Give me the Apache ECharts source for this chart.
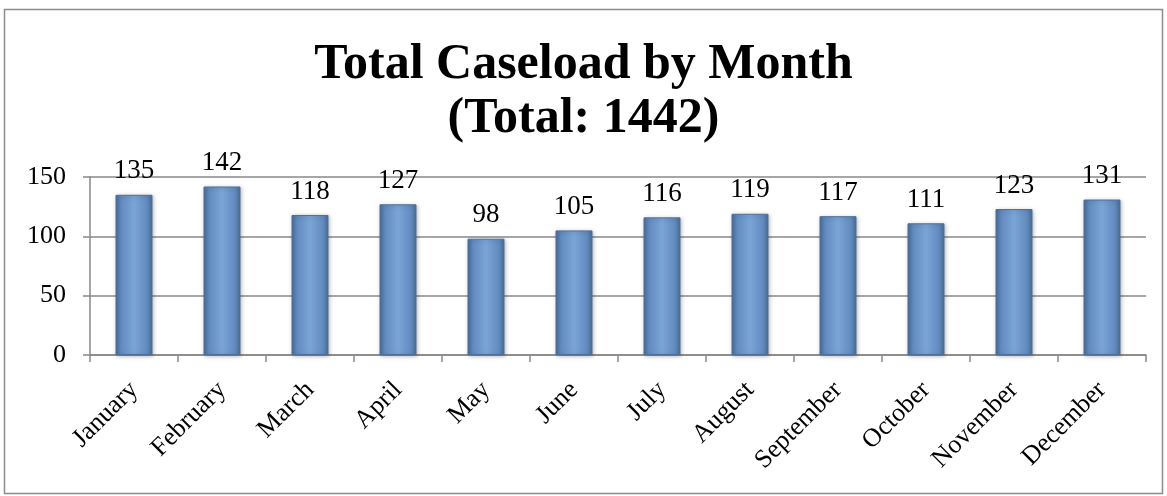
<!DOCTYPE html>
<html><head><meta charset="utf-8">
<script src="https://cdn.jsdelivr.net/npm/echarts@6/dist/echarts.min.js"></script>
<style>html,body{margin:0;padding:0;background:#fff}#c{width:1167px;height:496px}</style>
</head><body><div id="c"></div>
<script>
const months = ['January','February','March','April','May','June','July','August','September','October','November','December'];
const caseload = [135,142,118,127,98,105,116,119,117,111,123,131];
const titleText = 'Total Caseload by Month\n(Total: 1442)';
const yTicks = {min:0, max:150, interval:50};
const FONT = '"Liberation Serif", "DejaVu Serif", serif';

const chart = echarts.init(document.getElementById('c'), null, {renderer:'canvas'});
chart.setOption({
  backgroundColor:'#fff',
  animation:false,
  graphic:[{type:'rect', shape:{x:4.5,y:9.5,width:1158,height:484}, style:{fill:'none', stroke:'#8c8c8c', lineWidth:1.5}, silent:true}],
  title:{ text:titleText, left:'center', top:33,
    textStyle:{fontFamily:FONT, fontWeight:'bold', fontSize:50, lineHeight:54, color:'#000'} },
  grid:{left:90, right:21, top:177, bottom:141, containLabel:false},
  xAxis:{type:'category', data:months,
    axisLine:{lineStyle:{color:'#888', width:1.5}},
    axisTick:{show:true, alignWithLabel:false, length:7, lineStyle:{color:'#888', width:1.5}},
    axisLabel:{rotate:45, fontFamily:FONT, fontSize:26, color:'#000', margin:31, interval:0},
    splitLine:{show:false}},
  yAxis:{type:'value', min:yTicks.min, max:yTicks.max, interval:yTicks.interval,
    axisLine:{show:true, lineStyle:{color:'#888', width:1.5}},
    axisTick:{show:true, length:7, lineStyle:{color:'#888', width:1.5}},
    axisLabel:{fontFamily:FONT, fontSize:26, color:'#000', margin:24},
    splitLine:{lineStyle:{color:'#888', width:1.5}}},
  series:[{type:'bar', data:caseload, barWidth:37,
    itemStyle:{color:new echarts.graphic.LinearGradient(0,0,1,0,[
      {offset:0,color:'#4a6c98'},{offset:0.15,color:'#628bbf'},{offset:0.5,color:'#7ba5d7'},{offset:0.85,color:'#628bbf'},{offset:1,color:'#4a6c98'}]),
      borderColor:'#4f6f99', borderWidth:1,
      shadowColor:'rgba(0,0,0,0.25)', shadowBlur:4, shadowOffsetX:1, shadowOffsetY:1},
    label:{show:true, position:'top', distance:10, fontFamily:FONT, fontSize:27, color:'#000'}}]
});
</script></body></html>
